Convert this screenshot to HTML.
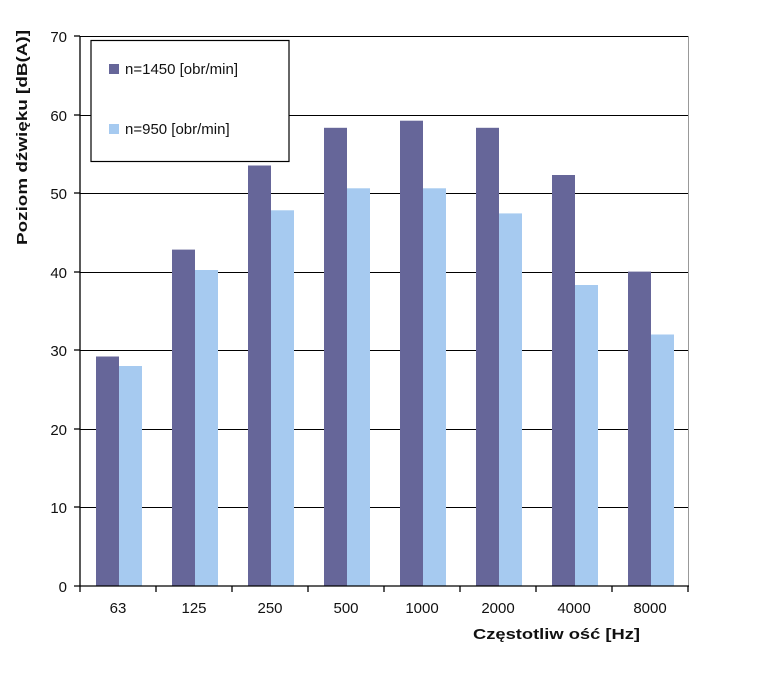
<!DOCTYPE html>
<html><head><meta charset="utf-8"><style>body{margin:0;background:#fff}</style></head><body>
<svg width="757" height="678" xmlns="http://www.w3.org/2000/svg" font-family="Liberation Sans, sans-serif">
<rect width="757" height="678" fill="#fff"/>
<g stroke="#000" stroke-width="1">
<line x1="80" y1="36.5" x2="689" y2="36.5"/>
<line x1="80" y1="115.5" x2="689" y2="115.5"/>
<line x1="80" y1="193.5" x2="689" y2="193.5"/>
<line x1="80" y1="272.5" x2="689" y2="272.5"/>
<line x1="80" y1="350.5" x2="689" y2="350.5"/>
<line x1="80" y1="429.5" x2="689" y2="429.5"/>
<line x1="80" y1="507.5" x2="689" y2="507.5"/>
</g>
<line x1="688.5" y1="36" x2="688.5" y2="586" stroke="#999"/>
<g id="bars">
<rect x="96" y="356.5" width="23" height="229.5" fill="#666699"/><rect x="119" y="366" width="23" height="220" fill="#a6caf0"/>
<rect x="172" y="249.6" width="23" height="336.4" fill="#666699"/><rect x="195" y="270" width="23" height="316" fill="#a6caf0"/>
<rect x="248" y="165.5" width="23" height="420.5" fill="#666699"/><rect x="271" y="210.3" width="23" height="375.7" fill="#a6caf0"/>
<rect x="324" y="127.8" width="23" height="458.2" fill="#666699"/><rect x="347" y="188.3" width="23" height="397.7" fill="#a6caf0"/>
<rect x="400" y="120.7" width="23" height="465.3" fill="#666699"/><rect x="423" y="188.3" width="23" height="397.7" fill="#a6caf0"/>
<rect x="476" y="127.8" width="23" height="458.2" fill="#666699"/><rect x="499" y="213.4" width="23" height="372.6" fill="#a6caf0"/>
<rect x="552" y="175" width="23" height="411" fill="#666699"/><rect x="575" y="285" width="23" height="301" fill="#a6caf0"/>
<rect x="628" y="271.6" width="23" height="314.4" fill="#666699"/><rect x="651" y="334.5" width="23" height="251.5" fill="#a6caf0"/>
</g>
<g stroke="#000" stroke-width="1.3">
<line x1="80" y1="36" x2="80" y2="586"/>
<line x1="74" y1="586" x2="689" y2="586"/>
<line x1="74" y1="36" x2="80" y2="36"/><line x1="74" y1="115" x2="80" y2="115"/><line x1="74" y1="193" x2="80" y2="193"/><line x1="74" y1="272" x2="80" y2="272"/><line x1="74" y1="350" x2="80" y2="350"/><line x1="74" y1="429" x2="80" y2="429"/><line x1="74" y1="507" x2="80" y2="507"/>
<line x1="80" y1="586" x2="80" y2="592"/><line x1="156" y1="586" x2="156" y2="592"/><line x1="232" y1="586" x2="232" y2="592"/><line x1="308" y1="586" x2="308" y2="592"/><line x1="384" y1="586" x2="384" y2="592"/><line x1="460" y1="586" x2="460" y2="592"/><line x1="536" y1="586" x2="536" y2="592"/><line x1="612" y1="586" x2="612" y2="592"/><line x1="688" y1="586" x2="688" y2="592"/>
</g>
<g font-size="15" fill="#111" text-anchor="end">
<text x="67" y="42">70</text><text x="67" y="121">60</text><text x="67" y="199">50</text><text x="67" y="278">40</text><text x="67" y="356">30</text><text x="67" y="435">20</text><text x="67" y="513">10</text><text x="67" y="592">0</text>
</g>
<g font-size="15" fill="#111" text-anchor="middle">
<text x="118" y="613">63</text><text x="194" y="613">125</text><text x="270" y="613">250</text><text x="346" y="613">500</text><text x="422" y="613">1000</text><text x="498" y="613">2000</text><text x="574" y="613">4000</text><text x="650" y="613">8000</text>
</g>
<text x="473" y="639" font-size="15" font-weight="bold" fill="#111" textLength="167" lengthAdjust="spacingAndGlyphs">Częstotliw ość [Hz]</text>
<text transform="translate(27,245) rotate(-90)" font-size="15" font-weight="bold" fill="#111" textLength="215" lengthAdjust="spacingAndGlyphs">Poziom dźwięku [dB(A)]</text>
<rect x="91" y="40.5" width="198" height="121" fill="#fff" stroke="#000" stroke-width="1.2"/>
<rect x="109" y="64" width="10" height="10" fill="#666699"/>
<rect x="109" y="124" width="10" height="10" fill="#a6caf0"/>
<text x="125" y="74" font-size="15" fill="#111">n=1450 [obr/min]</text>
<text x="125" y="134" font-size="15" fill="#111">n=950 [obr/min]</text>
</svg>
</body></html>
